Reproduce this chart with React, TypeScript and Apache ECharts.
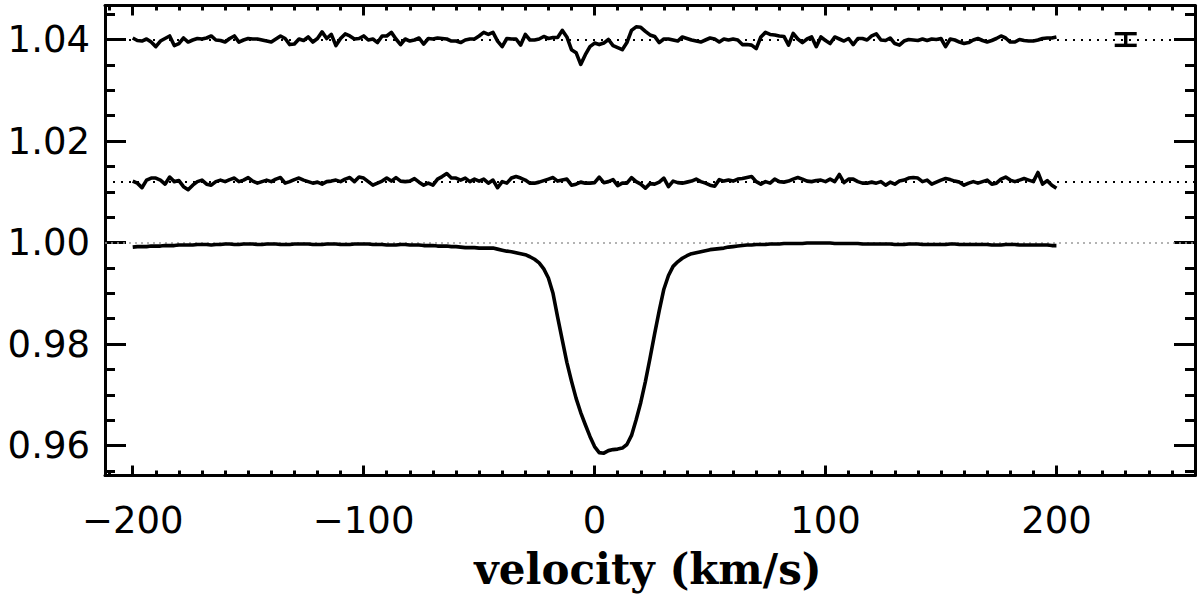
import React, { useEffect, useRef } from "react";
import * as echarts from "echarts";

// ---------- data ----------
const VEL_START = -200;
const VEL_STEP = 2;
const N_POINTS = 201;
const velocity: number[] = Array.from({ length: N_POINTS }, (_, i) => VEL_START + VEL_STEP * i);

// Stokes V (shifted to 1.04)
const stokesV: number[] = [
  // -200 .. -100
  1.0403, 1.0398, 1.0397, 1.0401, 1.0395, 1.0386, 1.0397, 1.0402, 1.0407, 1.0388,
  1.0392, 1.0403, 1.0395, 1.0399, 1.0402, 1.0401, 1.0403, 1.0407, 1.0399, 1.0398,
  1.0395, 1.0402, 1.0407, 1.0395, 1.0399, 1.0402, 1.0401, 1.0401, 1.0399, 1.0397,
  1.0395, 1.0401, 1.0407, 1.0402, 1.0390, 1.0391, 1.0401, 1.0398, 1.0405, 1.0395,
  1.0402, 1.0415, 1.0402, 1.0410, 1.0388, 1.0402, 1.0411, 1.0407, 1.0401, 1.0402,
  1.0407,
  // -98 .. -2
  1.0399, 1.0401, 1.0394, 1.0407, 1.0407, 1.0414, 1.0401, 1.0390, 1.0401, 1.0397,
  1.0399, 1.0403, 1.0391, 1.0402, 1.0401, 1.0403, 1.0402, 1.0401, 1.0397, 1.0397,
  1.0394, 1.0399, 1.0401, 1.0401, 1.0407, 1.0414, 1.0410, 1.0414, 1.0397, 1.0386,
  1.0402, 1.0401, 1.0401, 1.0389, 1.0410, 1.0399, 1.0399, 1.0401, 1.0406, 1.0402,
  1.0404, 1.0404, 1.0418, 1.0405, 1.0380, 1.0374, 1.0351, 1.0370, 1.0386,
  // 0 .. 100
  1.0393, 1.0390, 1.0393, 1.0400, 1.0388, 1.0384, 1.0380, 1.0394, 1.0418, 1.0425,
  1.0424, 1.0416, 1.0409, 1.0406, 1.0394, 1.0401, 1.0401, 1.0399, 1.0397, 1.0405,
  1.0402, 1.0399, 1.0397, 1.0395, 1.0399, 1.0403, 1.0401, 1.0395, 1.0401, 1.0399,
  1.0401, 1.0399, 1.0390, 1.0390, 1.0389, 1.0382, 1.0405, 1.0414, 1.0410, 1.0409,
  1.0407, 1.0406, 1.0389, 1.0412, 1.0401, 1.0394, 1.0401, 1.0405, 1.0386, 1.0405,
  1.0398,
  // 102 .. 200
  1.0392, 1.0405, 1.0401, 1.0397, 1.0402, 1.0390, 1.0402, 1.0402, 1.0399, 1.0407,
  1.0411, 1.0399, 1.0398, 1.0403, 1.0392, 1.0389, 1.0397, 1.0400, 1.0399, 1.0398,
  1.0401, 1.0398, 1.0401, 1.0400, 1.0402, 1.0386, 1.0401, 1.0399, 1.0395, 1.0392,
  1.0394, 1.0399, 1.0402, 1.0398, 1.0395, 1.0398, 1.0402, 1.0407, 1.0403, 1.0395,
  1.0395, 1.0400, 1.0398, 1.0397, 1.0397, 1.0399, 1.0402, 1.0403, 1.0403, 1.0405,
];

// Null profile N (shifted to 1.012)
const nullN: number[] = [
  // -200 .. -100
  1.0121, 1.0117, 1.0108, 1.0123, 1.0127, 1.0127, 1.0123, 1.0115, 1.0129, 1.0120,
  1.0122, 1.0110, 1.0104, 1.0113, 1.0120, 1.0123, 1.0115, 1.0113, 1.0120, 1.0123,
  1.0120, 1.0124, 1.0127, 1.0120, 1.0123, 1.0128, 1.0121, 1.0117, 1.0120, 1.0123,
  1.0120, 1.0125, 1.0128, 1.0117, 1.0120, 1.0124, 1.0127, 1.0123, 1.0120, 1.0117,
  1.0119, 1.0115, 1.0120, 1.0121, 1.0123, 1.0120, 1.0125, 1.0128, 1.0120, 1.0129,
  1.0127,
  // -98 .. -2
  1.0120, 1.0113, 1.0117, 1.0121, 1.0127, 1.0121, 1.0128, 1.0121, 1.0120, 1.0121,
  1.0126, 1.0119, 1.0113, 1.0117, 1.0113, 1.0125, 1.0130, 1.0136, 1.0127, 1.0127,
  1.0123, 1.0127, 1.0120, 1.0125, 1.0121, 1.0125, 1.0117, 1.0123, 1.0108, 1.0120,
  1.0117, 1.0127, 1.0130, 1.0127, 1.0123, 1.0117, 1.0117, 1.0119, 1.0122, 1.0125,
  1.0128, 1.0121, 1.0123, 1.0125, 1.0113, 1.0115, 1.0119, 1.0117, 1.0117,
  // 0 .. 100
  1.0118, 1.0129, 1.0118, 1.0120, 1.0124, 1.0112, 1.0117, 1.0117, 1.0128, 1.0120,
  1.0115, 1.0107, 1.0116, 1.0115, 1.0119, 1.0127, 1.0110, 1.0121, 1.0118, 1.0117,
  1.0119, 1.0121, 1.0125, 1.0120, 1.0117, 1.0113, 1.0111, 1.0124, 1.0121, 1.0123,
  1.0121, 1.0125, 1.0126, 1.0128, 1.0130, 1.0120, 1.0115, 1.0120, 1.0117, 1.0125,
  1.0120, 1.0119, 1.0121, 1.0125, 1.0128, 1.0125, 1.0121, 1.0120, 1.0122, 1.0123,
  1.0120,
  // 102 .. 200
  1.0125, 1.0120, 1.0134, 1.0118, 1.0125, 1.0125, 1.0120, 1.0117, 1.0117, 1.0119,
  1.0117, 1.0120, 1.0113, 1.0119, 1.0115, 1.0121, 1.0123, 1.0127, 1.0128, 1.0127,
  1.0120, 1.0123, 1.0115, 1.0119, 1.0123, 1.0126, 1.0124, 1.0121, 1.0119, 1.0113,
  1.0117, 1.0120, 1.0117, 1.0120, 1.0123, 1.0115, 1.0117, 1.0125, 1.0129, 1.0123,
  1.0120, 1.0123, 1.0126, 1.0123, 1.0120, 1.0138, 1.0115, 1.0122, 1.0113, 1.0107,
];

// Stokes I profile
const stokesI: number[] = [
  // -200 .. -46
  0.9991, 0.9992, 0.9992, 0.9992, 0.9993, 0.9993, 0.9993, 0.9994, 0.9994, 0.9994,
  0.9995, 0.9995, 0.9995, 0.9995, 0.9996, 0.9996, 0.9996, 0.9995, 0.9996, 0.9996,
  0.9997, 0.9997, 0.9996, 0.9996, 0.9997, 0.9997, 0.9997, 0.9996, 0.9996, 0.9997,
  0.9997, 0.9997, 0.9996, 0.9996, 0.9996, 0.9997, 0.9997, 0.9997, 0.9997, 0.9996,
  0.9996, 0.9996, 0.9997, 0.9997, 0.9997, 0.9996, 0.9996, 0.9996, 0.9997, 0.9997,
  0.9997, 0.9997, 0.9996, 0.9996, 0.9996, 0.9995, 0.9995, 0.9995, 0.9996, 0.9996,
  0.9995, 0.9995, 0.9995, 0.9994, 0.9994, 0.9994, 0.9993, 0.9993, 0.9993, 0.9992,
  0.9992, 0.9991, 0.9990, 0.9990, 0.9990, 0.9989, 0.9989, 0.9989,
  // -44 .. 68
  0.9989, 0.9987, 0.9985, 0.9983, 0.9982, 0.9980, 0.9978, 0.9976, 0.9972, 0.9967,
  0.9960, 0.9948, 0.9930, 0.9900, 0.9853, 0.9808, 0.9764, 0.9727, 0.9693, 0.9665,
  0.9641, 0.9618, 0.9598, 0.9586, 0.9585, 0.9590, 0.9592, 0.9593, 0.9595, 0.9602,
  0.9620, 0.9651, 0.9685, 0.9726, 0.9772, 0.9820, 0.9866, 0.9908, 0.9935, 0.9953,
  0.9962, 0.9969, 0.9974, 0.9978, 0.9980, 0.9982, 0.9984, 0.9986, 0.9987, 0.9988,
  0.9989, 0.9991, 0.9992, 0.9993, 0.9994, 0.9995, 0.9995,
  // 70 .. 200
  0.9996, 0.9996, 0.9996, 0.9997, 0.9997, 0.9997, 0.9998, 0.9998, 0.9998, 0.9998,
  0.9998, 0.9999, 0.9999, 0.9999, 0.9999, 0.9999, 0.9999, 0.9998, 0.9998, 0.9998,
  0.9998, 0.9998, 0.9998, 0.9997, 0.9997, 0.9997, 0.9997, 0.9997, 0.9997, 0.9997,
  0.9996, 0.9996, 0.9996, 0.9997, 0.9997, 0.9997, 0.9996, 0.9996, 0.9996, 0.9996,
  0.9996, 0.9996, 0.9997, 0.9997, 0.9996, 0.9996, 0.9996, 0.9996, 0.9996, 0.9996,
  0.9996, 0.9995, 0.9995, 0.9995, 0.9996, 0.9996, 0.9996, 0.9995, 0.9995, 0.9995,
  0.9995, 0.9995, 0.9995, 0.9995, 0.9994, 0.9994,
];

// reference levels
const levelV = 1.04;
const levelN = 1.012;
const levelI = 1.0;

// error bar: [velocity, level, half-height]
const errorBar: number[][] = [[230, 1.04, 0.00115]];

// axes
const X_MIN = -212;
const X_MAX = 260;
const Y_MIN = 0.9541;
const Y_MAX = 1.0467;
const xMajorTicks = [-200, -100, 0, 100, 200];
const xMinorTicks = [
  -210, -190, -180, -170, -160, -150, -140, -130, -120, -110,
  -90, -80, -70, -60, -50, -40, -30, -20, -10,
  10, 20, 30, 40, 50, 60, 70, 80, 90,
  110, 120, 130, 140, 150, 160, 170, 180, 190,
  210, 220, 230, 240, 250,
];
const yMajorTicks = [0.96, 0.98, 1.0, 1.02, 1.04];
const yMinorTicks = [
  0.955, 0.965, 0.97, 0.975, 0.985, 0.99, 0.995,
  1.005, 1.01, 1.015, 1.025, 1.03, 1.035, 1.045,
];
const xTitle = "velocity (km/s)";

// ---------- chart ----------
const BLACK = "#000";
const LABEL_FONT = "DejaVu Sans";
const SERIES_WIDTH = 3.6;

function xAxisDef(position: "top" | "bottom", ticks: number[], len: number, line: boolean, labels: boolean) {
  return {
    type: "value",
    position,
    min: X_MIN,
    max: X_MAX,
    splitLine: { show: false },
    axisLine: { show: line, onZero: false, lineStyle: { color: BLACK, width: 3 } },
    axisTick: { show: true, inside: true, length: len, customValues: ticks, lineStyle: { color: BLACK, width: 3 } },
    axisLabel: labels
      ? {
          show: true,
          customValues: ticks,
          margin: 26,
          color: BLACK,
          fontSize: 37,
          fontFamily: LABEL_FONT,
          formatter: (v: number) => String(v).replace("-", "\u2212"),
        }
      : { show: false },
  };
}

function yAxisDef(position: "left" | "right", ticks: number[], len: number, line: boolean, labels: boolean) {
  return {
    type: "value",
    position,
    min: Y_MIN,
    max: Y_MAX,
    splitLine: { show: false },
    axisLine: { show: line, onZero: false, lineStyle: { color: BLACK, width: 3 } },
    axisTick: { show: true, inside: true, length: len, customValues: ticks, lineStyle: { color: BLACK, width: 3 } },
    axisLabel: labels
      ? {
          show: true,
          customValues: ticks,
          margin: 15,
          color: BLACK,
          fontSize: 37,
          fontFamily: LABEL_FONT,
          formatter: (v: number) => v.toFixed(2),
        }
      : { show: false },
  };
}

function lineSeries(name: string, values: number[], level: number, dashColor: string, dash: number[], dashWidth: number) {
  return {
    name,
    type: "line",
    xAxisIndex: 0,
    yAxisIndex: 0,
    data: velocity.map((v, i) => [v, values[i]]),
    showSymbol: false,
    symbol: "none",
    lineStyle: { color: BLACK, width: SERIES_WIDTH, join: "round" },
    z: 3,
    markLine: {
      silent: true,
      symbol: "none",
      precision: 6,
      label: { show: false },
      lineStyle: { color: dashColor, width: dashWidth, type: dash },
      data: [{ yAxis: level }],
      z: 1,
    },
  };
}

const option = {
  animation: false,
  backgroundColor: "#fff",
  grid: { left: 105, right: 5, top: 5.5, bottom: 121.5, containLabel: false },
  xAxis: [
    xAxisDef("bottom", xMajorTicks, 10, true, true),
    xAxisDef("bottom", xMinorTicks, 5, false, false),
    xAxisDef("top", xMajorTicks, 10, true, false),
    xAxisDef("top", xMinorTicks, 5, false, false),
  ],
  yAxis: [
    yAxisDef("left", yMajorTicks, 21, true, true),
    yAxisDef("left", yMinorTicks, 10, false, false),
    yAxisDef("right", yMajorTicks, 21, true, false),
    yAxisDef("right", yMinorTicks, 10, false, false),
  ],
  graphic: [
    {
      type: "text",
      x: 648,
      y: 569,
      style: {
        text: xTitle,
        fill: BLACK,
        font: "bold 42px 'DejaVu Serif'",
        textAlign: "center",
        textVerticalAlign: "middle",
      },
    },
  ],
  series: [
    lineSeries("I", stokesI, levelI, "#9a9a9a", [2, 4], 1.5),
    lineSeries("N", nullN, levelN, BLACK, [2, 6], 2),
    lineSeries("V", stokesV, levelV, BLACK, [2, 6], 2),
    {
      name: "error",
      type: "custom",
      xAxisIndex: 0,
      yAxisIndex: 0,
      data: errorBar,
      z: 4,
      renderItem: (params: any, api: any) => {
        const x = api.value(0);
        const y = api.value(1);
        const e = api.value(2);
        const top = api.coord([x, y + e]);
        const bot = api.coord([x, y - e]);
        const hw = 11;
        const st = { stroke: BLACK, lineWidth: 3.4 };
        return {
          type: "group",
          children: [
            { type: "line", shape: { x1: top[0], y1: top[1], x2: bot[0], y2: bot[1] }, style: st },
            { type: "line", shape: { x1: top[0] - hw, y1: top[1], x2: top[0] + hw, y2: top[1] }, style: st },
            { type: "line", shape: { x1: bot[0] - hw, y1: bot[1], x2: bot[0] + hw, y2: bot[1] }, style: st },
          ],
        };
      },
    },
  ],
};

export default function App() {
  const ref = useRef<HTMLDivElement>(null);
  useEffect(() => {
    if (!ref.current) return;
    const chart = echarts.init(ref.current, null, { renderer: "svg" });
    chart.setOption(option as any);
    return () => chart.dispose();
  }, []);
  return (
    <div
      ref={ref}
      style={{ position: "fixed", left: 0, top: 0, width: 1200, height: 597, background: "#fff" }}
    />
  );
}
